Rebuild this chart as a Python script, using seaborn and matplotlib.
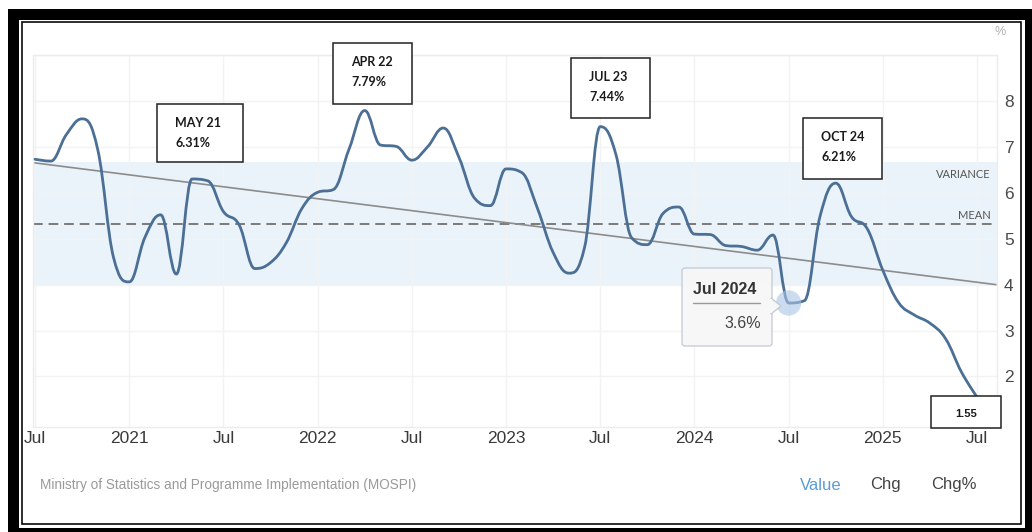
import numpy as np
import pandas as pd
import matplotlib
matplotlib.use("Agg")
import matplotlib.pyplot as plt
import matplotlib.transforms as mtransforms
from matplotlib.path import Path
from matplotlib.patches import PathPatch, Rectangle, FancyBboxPatch, Polygon
import seaborn as sns

# monthly CPI inflation, Jul 2020 .. Jul 2025 (%)
cpi_values = [6.73, 6.69, 7.27, 7.61, 6.93, 4.59,
              4.06, 5.03, 5.52, 4.23, 6.30, 6.26, 5.59, 5.30, 4.35, 4.48, 4.91, 5.66,
              6.01, 6.07, 6.95, 7.79, 7.04, 7.01, 6.71, 7.00, 7.41, 6.77, 5.88, 5.72,
              6.52, 6.44, 5.66, 4.70, 4.25, 4.81, 7.44, 6.83, 5.02, 4.87, 5.55, 5.69,
              5.10, 5.09, 4.85, 4.83, 4.75, 5.08, 3.60, 3.65, 5.49, 6.21, 5.48, 5.22,
              4.31, 3.61, 3.34, 3.16, 2.82, 2.10, 1.55]
month_idx = list(range(len(cpi_values)))

tick_months = [0, 6, 12, 18, 24, 30, 36, 42, 48, 54, 60]
tick_labels = ["Jul", "2021", "Jul", "2022", "Jul", "2023", "Jul", "2024", "Jul", "2025", "Jul"]

# stats shown on the chart
mean_value = 5.33
variance_band = [4.0, 6.66]
trend_x = [0, 61.2]
trend_y = [6.65, 4.0]

# callouts
callout_text = ["MAY 21\n6.31%", "APR 22\n7.79%", "JUL 23\n7.44%", "OCT 24\n6.21%"]
tooltip_month = 48
tooltip_value = 3.6

LINE = "#4b6f95"


def spline_path(xs, ys, smoothing=1.5):
    # highcharts-style spline through the points
    n = len(xs)
    d = smoothing + 1
    left, right = [None] * n, [None] * n
    for i in range(n):
        if i == 0 or i == n - 1:
            left[i] = right[i] = (xs[i], ys[i])
            continue
        x, y = xs[i], ys[i]
        lx = (smoothing * x + xs[i - 1]) / d
        ly = (smoothing * y + ys[i - 1]) / d
        rx = (smoothing * x + xs[i + 1]) / d
        ry = (smoothing * y + ys[i + 1]) / d
        corr = ((ry - ly) * (rx - x)) / (rx - lx) + y - ry
        ly += corr
        ry += corr
        if ly > max(ys[i - 1], y):
            ly = max(ys[i - 1], y); ry = 2 * y - ly
        elif ly < min(ys[i - 1], y):
            ly = min(ys[i - 1], y); ry = 2 * y - ly
        if ry > max(ys[i + 1], y):
            ry = max(ys[i + 1], y); ly = 2 * y - ry
        elif ry < min(ys[i + 1], y):
            ry = min(ys[i + 1], y); ly = 2 * y - ry
        left[i] = (lx, ly)
        right[i] = (rx, ry)
    verts = [(xs[0], ys[0])]
    codes = [Path.MOVETO]
    for i in range(1, n):
        verts += [right[i - 1], left[i], (xs[i], ys[i])]
        codes += [Path.CURVE4] * 3
    return Path(verts, codes)


sns.set_theme(style="white")
plt.rcParams["font.family"] = ["Liberation Sans", "DejaVu Sans"]

W, H = 1032, 532
fig = plt.figure(figsize=(W / 100, H / 100), dpi=100)
fig.patch.set_facecolor("white")
# pixel coords of the picture, origin top-left
pxT = mtransforms.Affine2D().scale(1 / W, -1 / H).translate(0, 1) + fig.transFigure

ax = fig.add_axes([33 / W, 1 - 427 / H, (997 - 33) / W, (427 - 55) / H])
ax.set_xlim(-0.13, 61.27)
ax.set_ylim(0.9, 9.0)

# variance band + mean
ax.axhspan(variance_band[0], variance_band[1], color="#eaf3fa", zorder=0, lw=0)
ax.axhline(mean_value, color="#7a7a7a", lw=1.4, ls=(0, (5, 3)), zorder=1)

df = pd.DataFrame({"month": month_idx, "cpi": cpi_values})
patch = PathPatch(spline_path(df["month"].tolist(), df["cpi"].tolist()),
                  facecolor="none", edgecolor=LINE, lw=2.0, zorder=4,
                  capstyle="round", joinstyle="round")
ax.add_patch(patch)

sns.lineplot(x=trend_x, y=trend_y, ax=ax, color="#8c8c8c", lw=1.2, zorder=3)
sns.scatterplot(x=[tooltip_month], y=[tooltip_value], ax=ax, s=330,
                color="#a9c5e6", alpha=0.6, edgecolor="none", zorder=5)

ax.set_xticks(tick_months)
ax.set_xticklabels(tick_labels)
ax.set_yticks(range(2, 10))
ax.set_yticklabels([str(v) for v in range(2, 9)] + [""])
ax.tick_params(axis="x", length=0, pad=3, labelsize=12.5, colors="#3a3a3a")
ax.tick_params(axis="y", length=0, pad=5, labelsize=12.5, colors="#4a4a4a",
               left=False, labelleft=False, right=True, labelright=True)
ax.grid(True, color="#f3f3f3", lw=1)
for s in ax.spines.values():
    s.set_color("#ececec")
    s.set_linewidth(1)
ax.set_xlabel("")
ax.set_ylabel("")

ax.text(0.9935, mean_value + 0.17, "MEAN", transform=ax.get_yaxis_transform(),
        ha="right", va="center", fontsize=8, color="#555555", family=["Lato", "DejaVu Sans"])
ax.text(0.9935, variance_band[1] - 0.27, "VARIANCE", transform=ax.get_yaxis_transform(),
        ha="right", va="center", fontsize=8, color="#555555", family=["Lato", "DejaVu Sans"])

# "%" unit
fig.text(1000, 32, "%", transform=pxT, ha="center", va="center", fontsize=9, color="#b0b0b0")

# callout boxes
boxes = [(157, 104, 243, 162), (333, 43, 412, 104), (571, 58, 650, 118), (803, 118, 882, 179)]
for (x0, y0, x1, y1), txt in zip(boxes, callout_text):
    fig.add_artist(Rectangle((x0, y0), x1 - x0, y1 - y0, transform=pxT, facecolor="white",
                             edgecolor="#222222", lw=1.1, zorder=10))
    top, bottom = txt.split("\n")
    fig.text(x0 + 18, y0 + 19, top, transform=pxT, ha="left", va="center", fontsize=9,
             fontweight="bold", color="#1a1a1a", family=["Lato", "DejaVu Sans"], zorder=11)
    fig.text(x0 + 18, y0 + 39, bottom, transform=pxT, ha="left", va="center", fontsize=9,
             fontweight="bold", color="#1a1a1a", family=["Lato", "DejaVu Sans"], zorder=11)

# last value box
fig.add_artist(Rectangle((931, 396), 70, 32, transform=pxT, facecolor="white",
                         edgecolor="#222222", lw=1.1, zorder=10))
fig.text(966, 414, f"{cpi_values[-1]:.2f}", transform=pxT, ha="center", va="center",
         fontsize=8, fontweight="bold", color="#1a1a1a", zorder=11)

# tooltip
fig.add_artist(FancyBboxPatch((682, 268), 90, 78, transform=pxT,
                              boxstyle="round,pad=0,rounding_size=3",
                              facecolor="#f7f7f7", edgecolor="#c3ccd6", lw=1.0,
                              alpha=0.95, zorder=10))
fig.add_artist(Polygon([(771, 298), (781, 306), (771, 314)], closed=True, transform=pxT,
                       facecolor="#f7f7f7", edgecolor="#c3ccd6", lw=1.0, zorder=10))
fig.add_artist(Rectangle((770, 299), 2, 14, transform=pxT, facecolor="#f7f7f7",
                         edgecolor="none", zorder=10.5))
fig.text(693, 290, "Jul 2024", transform=pxT, ha="left", va="center", fontsize=11.5,
         fontweight="bold", color="#333333", zorder=11)
fig.add_artist(plt.Line2D([693, 760], [303, 303], transform=pxT, color="#9a9a9a", lw=1, zorder=11))
fig.text(761, 323, f"{tooltip_value}%", transform=pxT, ha="right", va="center", fontsize=11.5,
         color="#444444", zorder=11)

# footer
fig.text(40, 485, "Ministry of Statistics and Programme Implementation (MOSPI)", transform=pxT,
         ha="left", va="center", fontsize=9.8, color="#9a9a9a")
fig.text(821, 485, "Value", transform=pxT, ha="center", va="center", fontsize=12, color="#5d9bd3")
fig.text(885, 485, "Chg", transform=pxT, ha="center", va="center", fontsize=12, color="#444444")
fig.text(954, 485, "Chg%", transform=pxT, ha="center", va="center", fontsize=12, color="#444444")

# black double frame
fig.add_artist(Rectangle((12.5, 13.5), 1017, 519, transform=pxT, facecolor="none",
                         edgecolor="black", lw=11 * 0.72, zorder=20))
fig.add_artist(Rectangle((21.5, 22), 999.5, 501.5, transform=pxT, facecolor="none",
                         edgecolor="black", lw=1.6 * 0.72, zorder=20))

fig.savefig("out.png", dpi=100)
